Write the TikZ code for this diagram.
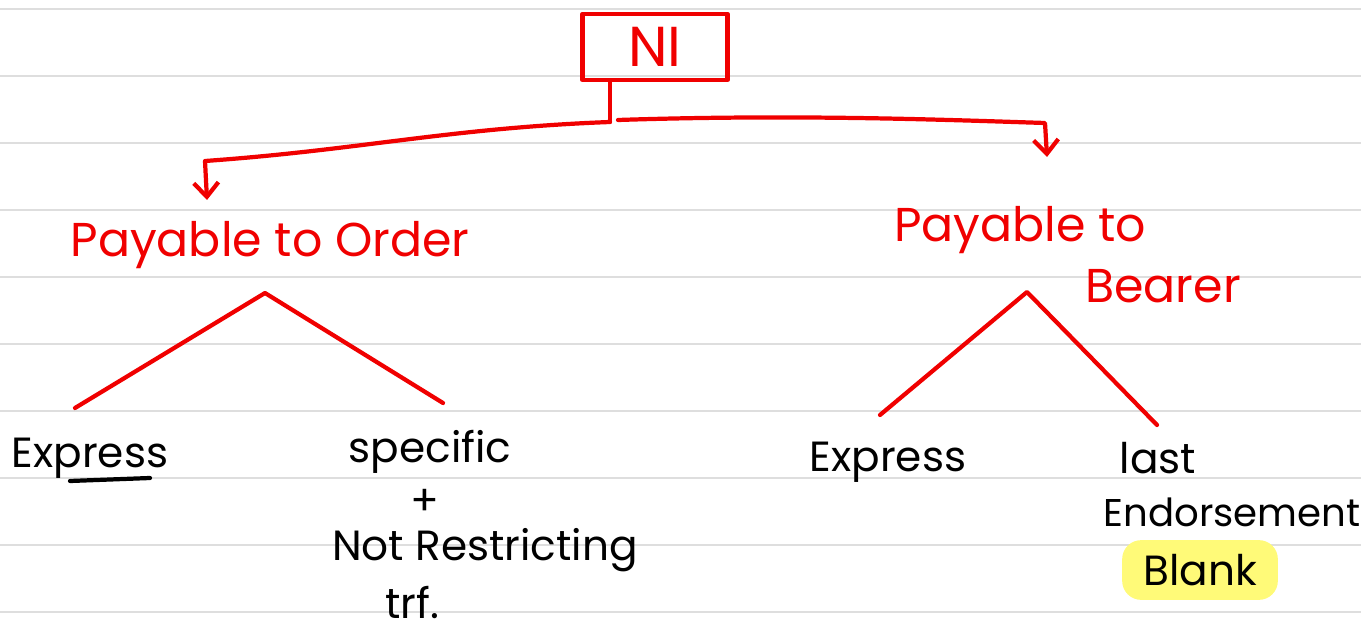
\documentclass[tikz,border=0pt]{standalone}
\usepackage{fontspec}
\setmainfont{Poppins}
\usepackage{xcolor}
\usetikzlibrary{arrows.meta}
\definecolor{inkred}{RGB}{240,0,0}
\definecolor{rulegray}{RGB}{222,222,222}
\definecolor{marker}{RGB}{255,250,120}

\begin{document}
\begin{tikzpicture}[x=0.01cm,y=-0.01cm,
    redtext/.style={text=inkred,font=\fontsize{13.5}{15}\selectfont,inner sep=0pt},
    inktext/.style={text=black,font=\fontsize{12}{14}\selectfont,inner sep=0pt},
    pen/.style={draw=inkred,line width=1.2pt,line cap=round,line join=round},
    blackpen/.style={draw=black,line width=1.2pt,line cap=round},
    tip/.style={-{Straight Barb[length=4pt,width=7pt]}}]
                \useasboundingbox (0,0) rectangle (1361,634);

                % Ruled lines
                \foreach \y in {9,76,143,210,277,344,411,478,545,612}
                    \draw[rulegray,line width=0.6pt] (0,\y) -- (1361,\y);

                % Root
                \node[pen,redtext,minimum width=1.45cm,minimum height=0.66cm,
                      font=\fontsize{16}{18}\selectfont] (ni) at (655,47) {NI};

                % Branches
                \node[redtext] (order) at (270,245) {Payable to Order};
                \node[redtext] (bearer) at (1020,230) {Payable to};
                \node[redtext] (bearer2) at (1163,286) {Bearer};

                \coordinate (split) at (610,122);
                \coordinate (lbend) at (205,161);
                \coordinate (lend) at (207,200);
                \coordinate (rstart) at (618,120);
                \coordinate (rbend) at (1045,123);
                \coordinate (rend) at (1047,157);

                \draw[pen] (ni.south -| split) -- (split);
                \draw[pen,tip] (split) .. controls (450,128) and (360,150) .. (lbend) -- (lend);
                \draw[pen,tip] (rstart) .. controls (800,114) and (950,120) .. (rbend) -- (rend);

                % Order subtree
                \coordinate (lapex) at (265,293);
                \coordinate (lleft) at (75,408);
                \coordinate (lright) at (443,403);
                \draw[pen] (lleft) -- (lapex) -- (lright);

                \node[inktext] (express1) at (90,458) {Express};
                \coordinate (ul1) at (70,481);
                \coordinate (ul2) at (150,478);
                \draw[blackpen] (ul1) -- (ul2);
                \node[inktext] (specific) at (430,452) {specific};
                \node[inktext] (plus) at (425,502) {+};
                \node[inktext] (notrestr) at (485,550) {Not Restricting};
                \node[inktext] (trf) at (412,603) {trf.};

                % Bearer subtree
                \coordinate (rapex) at (1027,292);
                \coordinate (rleft) at (880,415);
                \coordinate (rright) at (1157,425);
                \draw[pen] (rleft) -- (rapex) -- (rright);

                \node[inktext] (express2) at (888,462) {Express};
                \node[inktext] (last) at (1158,458) {last};
                \node[inktext,font=\fontsize{11}{13}\selectfont] (endorse) at (1232,512) {Endorsement};
                \node[inktext,fill=marker,rounded corners=0.19cm,inner xsep=6pt,inner ysep=4pt]
                    (blank) at (1200,570) {Blank};
\end{tikzpicture}
\end{document}
